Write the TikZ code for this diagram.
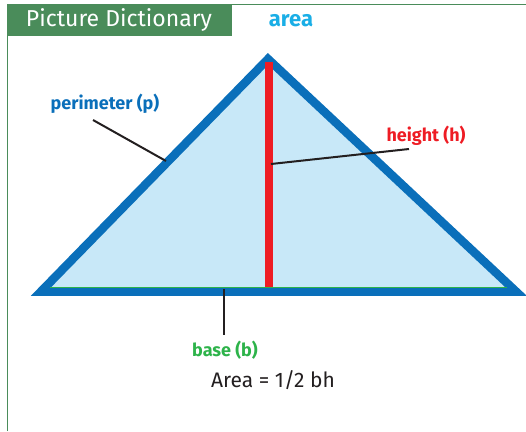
\documentclass[tikz,border=0pt]{standalone}
\usepackage{fontspec}
\setmainfont{Fira Sans}
\definecolor{hdrgreen}{HTML}{4A8C5A}
\definecolor{triblue}{HTML}{0A6FBA}
\definecolor{trifill}{HTML}{C8E8F8}
\definecolor{hred}{HTML}{EE1C24}
\definecolor{bgreen}{HTML}{2DB34A}
\definecolor{areacyan}{HTML}{1AAEE6}
\definecolor{leader}{HTML}{231F20}
\tikzset{
  lbl/.style={font=\fontsize{18}{20}\selectfont\bfseries, inner sep=0pt},
  leaderline/.style={draw=leader, line width=2pt},
}
\begin{document}
\begin{tikzpicture}[x=1pt,y=-1pt]
\useasboundingbox (0,0) rectangle (526,431);
% frame
\draw[hdrgreen, line width=1.2pt] (7.5,431) -- (7.5,4.5) -- (526,4.5);
\fill[hdrgreen] (7,4) rectangle (232,36);
\node[text=white, font=\fontsize{23}{25}\selectfont, inner sep=0pt] (title) at (119,20) {Picture Dictionary};
\node[lbl, text=areacyan, font=\fontsize{22}{24}\selectfont\bfseries] (area) at (291,21) {area};
% triangle
\coordinate (A) at (268,59);
\coordinate (L) at (41,291.5);
\coordinate (R) at (516,291.5);
\filldraw[fill=trifill, draw=triblue, line width=8.5pt, line join=miter] (A) -- (L) -- (R) -- cycle;
% base line
\coordinate (BL) at (50,287.5);
\coordinate (BR) at (507,287.5);
\draw[bgreen, line width=1.8pt] (BL) -- (BR);
% height
\coordinate (H1) at (268.5,62);
\coordinate (H2) at (268.5,286.5);
\draw[hred, line width=8pt] (H1) -- (H2);
% labels
\node[lbl, text=triblue] (per) at (105,104) {perimeter (p)};
\node[lbl, text=hred] (hei) at (426,136) {height (h)};
\node[lbl, text=bgreen] (base) at (225,350) {base (b)};
\node[text=leader, font=\fontsize{21}{23}\selectfont, inner sep=0pt] (formula) at (273,380) {Area = 1/2 bh};
% leaders
\coordinate (p1) at (93,120);
\coordinate (p2) at (166,161);
\draw[leaderline] (p1) -- (p2);
\coordinate (h1) at (271,164);
\coordinate (h2) at (409,149);
\draw[leaderline] (h1) -- (h2);
\coordinate (b1) at (224,289);
\coordinate (b2) at (224,335);
\draw[leaderline] (b1) -- (b2);
\end{tikzpicture}
\end{document}
